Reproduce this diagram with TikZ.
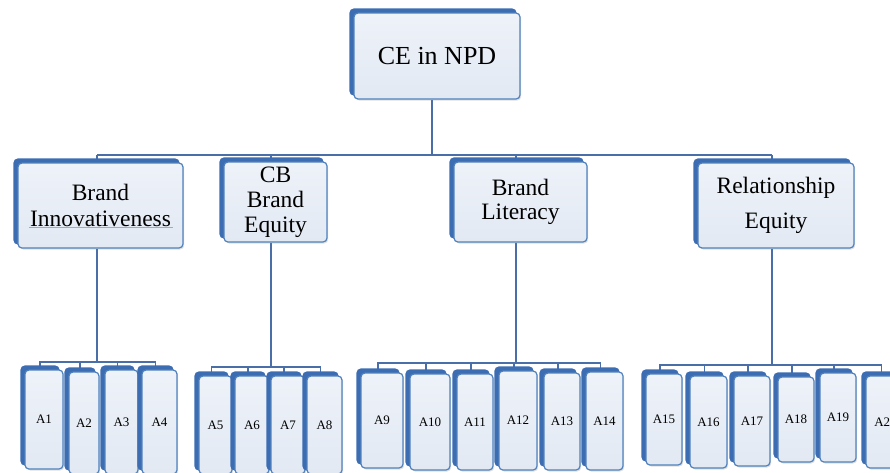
\documentclass[tikz,border=0pt]{standalone}
\usepackage{fontspec}
\setmainfont{Liberation Serif}
\usetikzlibrary{shadows,backgrounds}
\definecolor{boxline}{HTML}{4F81BD}
\definecolor{boxdark}{HTML}{3C6DB2}
\definecolor{boxtop}{HTML}{EEF2F9}
\definecolor{boxbot}{HTML}{E2E9F3}
\definecolor{conncol}{HTML}{4A6FA8}
\definecolor{spell}{HTML}{F08C8C}
\begin{document}
\begin{tikzpicture}[x=1pt,y=-1pt,
  lbox/.style={draw=boxline, line width=1.2pt, rounded corners=4pt,
    top color=boxtop, bottom color=boxbot, inner sep=0pt, align=center,
    copy shadow={shadow xshift=-4pt, shadow yshift=4pt, fill=boxdark, draw=boxdark},
    drop shadow={shadow xshift=1.2pt, shadow yshift=-1.5pt, opacity=0.25}},
  toptext/.style={font=\fontsize{26}{30}\selectfont},
  midtext/.style={font=\fontsize{23.5}{26}\selectfont},
  leaf/.style={lbox, font=\fontsize{13}{15}\selectfont},
  conn/.style={draw=conncol, line width=1.6pt},
  sconn/.style={draw=conncol, line width=1.3pt}]
\useasboundingbox (0,0) rectangle (890,472);

% top
\node[lbox, toptext, minimum width=166pt, minimum height=86pt] (top) at (437,56) {CE in NPD};
% level 2
\node[lbox, midtext, minimum width=165pt, minimum height=85pt] (bi) at (100.5,205.5) {Brand\\Innovativeness};
\node[lbox, font=\fontsize{23.5}{25}\selectfont, minimum width=103pt, minimum height=80pt] (cb) at (275.5,202) {CB\\Brand\\Equity};
\node[lbox, font=\fontsize{23.5}{24}\selectfont, minimum width=133pt, minimum height=80pt] (bl) at (520.5,202) {Brand\\Literacy};
\node[lbox, font=\fontsize{23.5}{35}\selectfont, minimum width=156pt, minimum height=85pt] (re) at (776,205.5) {Relationship\\Equity};
\draw[spell, line width=0.7pt] (29,227.5) -- (173,227.5);

% leaves group 1
\node[leaf, minimum width=38pt, minimum height=99pt] (a1) at (44,419.5) {A1};
\node[leaf, minimum width=30pt, minimum height=102pt] (a2) at (84,423) {A2};
\node[leaf, minimum width=33pt, minimum height=104pt] (a3) at (121.5,422) {A3};
\node[leaf, minimum width=35pt, minimum height=104pt] (a4) at (159.5,422) {A4};
% group 2
\node[leaf, minimum width=33pt, minimum height=98pt] (a5) at (215.5,425) {A5};
\node[leaf, minimum width=34pt, minimum height=98pt] (a6) at (252,425) {A6};
\node[leaf, minimum width=34pt, minimum height=98pt] (a7) at (288,425) {A7};
\node[leaf, minimum width=35pt, minimum height=98pt] (a8) at (324.5,425) {A8};
% group 3
\node[leaf, minimum width=42pt, minimum height=95pt] (a9) at (382,420.5) {A9};
\node[leaf, minimum width=40pt, minimum height=96pt] (a10) at (430,422) {A10};
\node[leaf, minimum width=36pt, minimum height=96pt] (a11) at (475,422) {A11};
\node[leaf, minimum width=38pt, minimum height=99pt] (a12) at (518,420.5) {A12};
\node[leaf, minimum width=36pt, minimum height=97pt] (a13) at (562,421.5) {A13};
\node[leaf, minimum width=37pt, minimum height=98pt] (a14) at (604.5,421) {A14};
% group 4
\node[leaf, minimum width=36pt, minimum height=91pt] (a15) at (664,419.5) {A15};
\node[leaf, minimum width=37pt, minimum height=92pt] (a16) at (708.5,422) {A16};
\node[leaf, minimum width=36pt, minimum height=90pt] (a17) at (752,421) {A17};
\node[leaf, minimum width=36pt, minimum height=85pt] (a18) at (796,419.5) {A18};
\node[leaf, minimum width=36pt, minimum height=89pt] (a19) at (838,417.5) {A19};
\node[leaf, minimum width=39pt, minimum height=92pt] (a20) at (885.5,422) {A20};

% junction coordinates
\coordinate (j0) at (432,155);
\coordinate (jbi) at (97,155);
\coordinate (jcb) at (271,155);
\coordinate (jbl) at (516,155);
\coordinate (jre) at (772,155);
\coordinate (g1) at (97,362);
\coordinate (g2) at (271,367);
\coordinate (g3) at (516,363);
\coordinate (g4) at (772,365);

\begin{scope}[on background layer]
\draw[conn] (top.south -| j0) -- (j0);
\draw[conn] (jbi) -- (jre);
\draw[conn] (jbi) -- (jbi |- bi.north);
\draw[conn] (jcb) -- (jcb |- cb.north);
\draw[conn] (jbl) -- (jbl |- bl.north);
\draw[conn] (jre) -- (jre |- re.north);
\draw[conn] (bi.south -| g1) -- (g1);
\draw[conn] (cb.south -| g2) -- (g2);
\draw[conn] (bl.south -| g3) -- (g3);
\draw[conn] (re.south -| g4) -- (g4);
% group buses
\foreach \c in {a1,a2,a3,a4}{\draw[sconn] ([xshift=-4pt]\c.north) |- (g1);}
\foreach \c in {a5,a6,a7,a8}{\draw[sconn] ([xshift=-4pt]\c.north) |- (g2);}
\foreach \c in {a9,a10,a11,a12,a13,a14}{\draw[sconn] ([xshift=-4pt]\c.north) |- (g3);}
\foreach \c in {a15,a16,a17,a18,a19,a20}{\draw[sconn] ([xshift=-4pt]\c.north) |- (g4);}
\end{scope}
\end{tikzpicture}
\end{document}
